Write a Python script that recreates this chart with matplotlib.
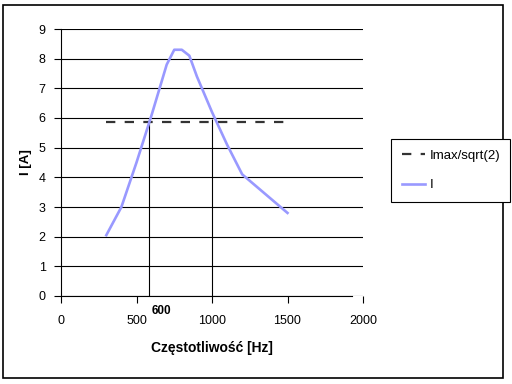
import matplotlib
matplotlib.use("Agg")
import matplotlib.pyplot as plt
from matplotlib.patches import Rectangle

# Data
freq = [300, 400, 500, 600, 700, 750, 800, 850, 900, 1000, 1100, 1200, 1500]
current = [2.05, 3.0, 4.5, 6.1, 7.8, 8.3, 8.3, 8.1, 7.4, 6.2, 5.1, 4.1, 2.8]
imax_x = [300, 1500]
imax_y = [5.85, 5.85]
vline_x = [585, 1000]
vline_top = 5.95
xticks = [0, 500, 1000, 1500, 2000]
yticks = list(range(10))

plt.rcParams['font.family'] = ['Liberation Sans', 'DejaVu Sans']

fig = plt.figure(figsize=(5.12, 3.84), dpi=100)
ax = fig.add_axes([61/512, 1 - 296/384, (363 - 61)/512, (296 - 29)/384])

ax.set_xlim(0, 2000)
ax.set_ylim(0, 9)
ax.set_xticks(xticks)
ax.set_yticks(yticks)
ax.tick_params(axis='both', direction='out', length=5, width=0.8, labelsize=9, color='black')
ax.tick_params(axis='x', pad=9)
ax.tick_params(axis='y', pad=6)

for s in ['top', 'right']:
    ax.spines[s].set_visible(False)
ax.spines['left'].set_linewidth(0.8)
ax.spines['bottom'].set_linewidth(0.8)
ax.spines['bottom'].set_bounds(0, 1930)

ax.yaxis.grid(True, color='black', linewidth=0.8)
ax.set_axisbelow(True)

ax.vlines(vline_x, 0, vline_top, colors='black', linewidth=0.8, zorder=2)

ax.plot(imax_x, imax_y, color='#333333', linewidth=1.6, dashes=(4.2, 4.2), label='Imax/sqrt(2)', zorder=3)
ax.plot(freq, current, color='#9999FF', linewidth=1.9, label='I', zorder=4)

ax.text(667, -0.52, '600', ha='center', va='center', fontsize=8.5, fontweight='bold')

ax.set_xlabel('Częstotliwość [Hz]', fontsize=10, fontweight='bold', labelpad=10)
ax.set_ylabel('I [A]', fontsize=9.5, fontweight='bold', labelpad=5)

leg = fig.legend(loc='upper left', bbox_to_anchor=(391/512, 1 - 139/384), fontsize=9.5,
                 frameon=True, fancybox=False, edgecolor='black', framealpha=1,
                 handlelength=1.8, borderpad=0.8, labelspacing=1.3, handletextpad=0.3,
                 borderaxespad=0)
leg.get_frame().set_linewidth(0.8)

fig.patches.append(Rectangle((3/512, 1 - 378/384), 500/512, 373/384, transform=fig.transFigure,
                             fill=False, edgecolor='black', linewidth=1.2))

fig.savefig('out.png', dpi=100)
